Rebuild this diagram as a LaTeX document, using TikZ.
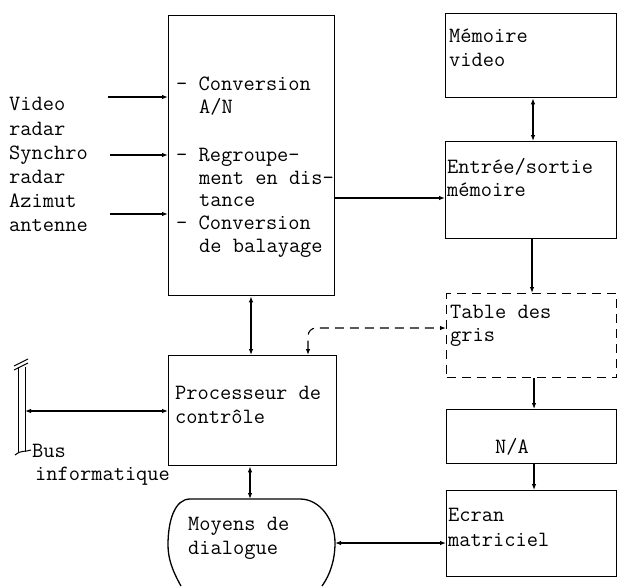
\documentclass[tikz,border=0pt]{standalone}
\usepackage{fontspec}
\usetikzlibrary{arrows.meta}
\begin{document}
\begin{tikzpicture}[x=1pt,y=-1pt,
  box/.style={draw, line width=1.3pt, anchor=north west, inner sep=0pt},
  txt/.style={anchor=base west, inner sep=0pt, font=\ttfamily\fontsize{21.8}{24}\selectfont},
  conn/.style={line width=1.1pt},
  tip/.style={-{Latex[length=6pt,width=4.5pt]}},
  tips/.style={{Latex[length=6pt,width=4.5pt]}-{Latex[length=6pt,width=4.5pt]}},
  dsh/.style={dash pattern=on 9pt off 6pt}]
\useasboundingbox (0,0) rectangle (617,586);
% boxes
\node[box, minimum width=166pt, minimum height=280pt] (conv) at (168,15) {};
\node[box, minimum width=171pt, minimum height=84pt] (mem) at (445,13) {};
\node[box, minimum width=171pt, minimum height=97pt] (es) at (445,141) {};
\node[box, dsh, minimum width=170pt, minimum height=84pt] (tab) at (446,293) {};
\node[box, minimum width=170pt, minimum height=54pt] (na) at (446,409) {};
\node[box, minimum width=170pt, minimum height=86pt] (ecr) at (446,490) {};
\node[box, minimum width=168pt, minimum height=110pt] (proc) at (168,355) {};
% Moyens de dialogue shape
\draw[line width=1.3pt] (181,586) .. controls (172,570) and (168,558) .. (168,545)
  .. controls (168,520) and (175,499) .. (190,499) -- (300,499)
  .. controls (320,499) and (335,520) .. (335,543)
  .. controls (335,560) and (330,575) .. (322,586);
\coordinate (moytop) at (250,499);
\coordinate (moyright) at (335,543);
% texts left
\node[txt] (l1) at (9,110) {Video};
\node[txt] (l2) at (9,135) {radar};
\node[txt] (l3) at (9,159) {Synchro};
\node[txt] (l4) at (9,183) {radar};
\node[txt] (l5) at (9,207) {Azimut};
\node[txt] (l6) at (9,231) {antenne};
% texts in conv
\node[txt] (c1) at (176,90) {- Conversion};
\node[txt] (c2) at (199,113) {A/N};
\node[txt] (c3) at (176,161) {- Regroupe-};
\node[txt] (c4) at (199,184) {ment en dis-};
\node[txt] (c5) at (199,206) {tance};
\node[txt] (c6) at (176,229) {- Conversion};
\node[txt] (c7) at (199,252) {de balayage};
% right texts
\node[txt] (m1) at (449,43) {Mémoire};
\node[txt] (m2) at (449,66) {video};
\node[txt] (e1) at (447,173) {Entrée/sortie};
\node[txt] (e2) at (447,196) {mémoire};
\node[txt] (t1) at (450,318) {Table des};
\node[txt] (t2) at (450,341) {gris};
\node[txt] (n1) at (495,453) {N/A};
\node[txt] (s1) at (448,521) {Ecran};
\node[txt] (s2) at (448,546) {matriciel};
\node[txt] (p1) at (175,399) {Processeur de};
\node[txt] (p2) at (175,423) {contrôle};
\node[txt] (d1) at (188,530) {Moyens de};
\node[txt] (d2) at (188,554) {dialogue};
\node[txt] (b1) at (32,457) {Bus};
\node[txt] (b2) at (35,480) {informatique};
% bus
\draw[line width=1pt] (18,367) -- (18,452) (25,367) -- (25,452);
\draw[line width=1pt] (14,366) -- (28,359) (14,370) -- (28,363);
\draw[line width=1pt] (15,455) .. controls (20,450) and (26,452) .. (31,450);
\coordinate (bus) at (25,411);
% inputs
\coordinate (in1) at (108,97);
\coordinate (in2) at (110,155);
\coordinate (in3) at (110,214);
\draw[conn,tip] (in1) -- (in1 -| conv.west);
\draw[conn,tip] (in2) -- (in2 -| conv.west);
\draw[conn,tip] (in3) -- (in3 -| conv.west);
% connectors
\draw[conn,tip] (conv.east |- 0,198) -- (es.west |- 0,198);
\draw[conn,tips] (533,0 |- mem.south) -- (533,0 |- es.north);
\draw[conn,tip] (532,0 |- es.south) -- (532,0 |- tab.north);
\draw[conn,tip] (534,0 |- tab.south) -- (534,0 |- na.north);
\draw[conn,tip] (534,0 |- na.south) -- (534,0 |- ecr.north);
\draw[conn,tips] (251,0 |- conv.south) -- (251,0 |- proc.north);
\draw[conn,tips] (250,0 |- proc.south) -- (moytop);
\draw[conn,tips] (bus) -- (bus -| proc.west);
\draw[conn,tips] (moyright) -- (moyright -| ecr.west);
\draw[conn,tips,dsh,rounded corners=8pt] (308,0 |- proc.north) |- (tab.west |- 0,328);
\end{tikzpicture}
\end{document}
